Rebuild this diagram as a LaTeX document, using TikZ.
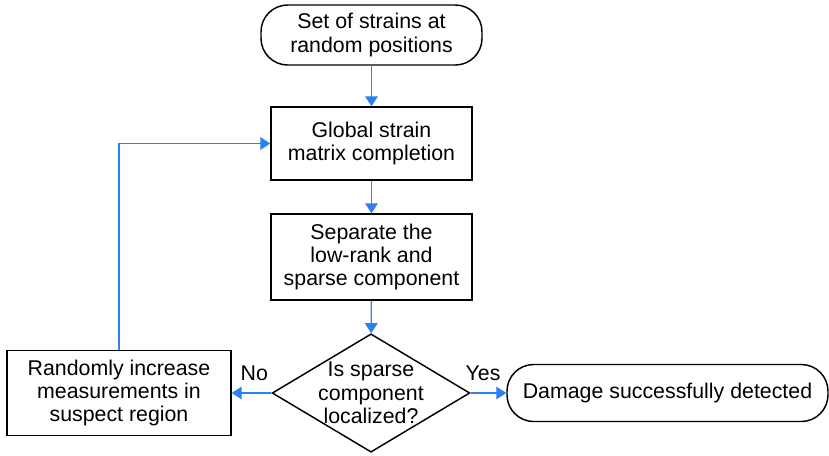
\documentclass[tikz,border=0pt]{standalone}
\usepackage{fontspec}
\setmainfont{Liberation Sans}
\usetikzlibrary{shapes.geometric,arrows.meta}
\definecolor{flowblue}{RGB}{45,128,242}

\begin{document}
\begin{tikzpicture}[x=0.75pt,y=-0.75pt,
    font=\fontsize{16}{17.5}\selectfont,
    box/.style={draw=black,line width=1.1pt,inner sep=0pt,align=center},
    term/.style={box,rounded corners=20pt},
    decision/.style={box,diamond,aspect=1.67,inner xsep=-4pt,inner ysep=0pt},
    flow/.style={draw=flowblue,line width=1pt,-{Triangle[length=7.5pt,width=9.5pt]}}]
    \useasboundingbox (0,0) rectangle (829,455);
    % main column
    \node[term,minimum width=165.75pt,minimum height=45pt] (start) at (371.5,35) {Set of strains at\\random positions};
    \node[box,minimum width=150.75pt,minimum height=54.75pt] (complete) at (371.5,143.5) {Global strain\\matrix completion};
    \node[box,minimum width=150.75pt,minimum height=64.5pt] (separate) at (371.5,257) {Separate the\\low-rank and\\sparse component};
    \node[decision] (check) at (371,393) {Is sparse\\component\\localized?};
    % side branches
    \node[box,minimum width=168pt,minimum height=63.75pt] (refine) at (119,393) {Randomly increase\\measurements in\\suspect region};
    \node[term,minimum width=240.75pt,minimum height=42.75pt] (done) at (667.5,393) {Damage successfully detected};
    \draw[flow] (start) -- (complete);
    \draw[flow] (complete) -- (separate);
    \draw[flow] (separate) -- (check);
    \draw[flow] (check.west) -- node[above,inner sep=9pt,xshift=2pt] {No} (refine.east);
    \draw[flow] (check.east) -- node[above,inner sep=9pt,xshift=-4pt] {Yes} (done.west);
    \draw[flow] (refine.north) |- (complete.west);
\end{tikzpicture}
\end{document}
